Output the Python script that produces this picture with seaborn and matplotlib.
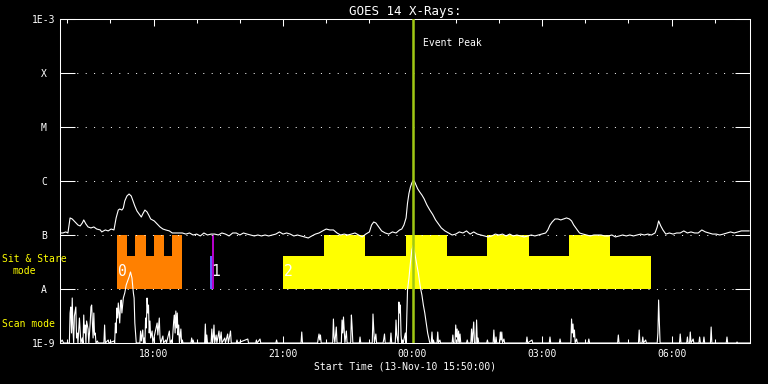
import numpy as np
import pandas as pd
import matplotlib
matplotlib.use("Agg")
import matplotlib.pyplot as plt
import matplotlib.dates as mdates
from matplotlib.ticker import NullLocator
import seaborn as sns

# ---------------- data ----------------
START = pd.Timestamp("2010-11-13 15:50:00")
END_MIN = 959
EVENT_PEAK = pd.Timestamp("2010-11-14 00:00:30")

# GOES long-channel flux (minutes after start, flux in units of 1e-7 W/m^2)
goes_min = [0, 4, 8, 11, 14, 17, 21, 25, 28, 31,
            33, 36, 39, 43, 47, 51, 56, 58, 63, 67,
            71, 75, 76, 78, 81, 83, 86, 88, 90, 93,
            96, 99, 101, 104, 107, 110, 113, 115, 118, 121,
            124, 126, 131, 135, 139, 143, 147, 152, 156, 161,
            167, 170, 175, 180, 185, 190, 195, 200, 205, 210,
            215, 220, 225, 230, 235, 240, 245, 250, 255, 260,
            265, 270, 275, 280, 285, 290, 295, 300, 305, 310,
            315, 320, 325, 330, 335, 340, 345, 350, 355, 360,
            365, 370, 375, 380, 385, 390, 395, 400, 405, 410,
            415, 420, 425, 430, 433, 436, 439, 443, 447, 452,
            457, 462, 467, 472, 475, 478, 481, 483, 485, 487,
            489, 491, 493, 495, 497, 500, 503, 506, 510, 514,
            518, 522, 526, 530, 535, 540, 545, 550, 555, 560,
            565, 570, 575, 580, 585, 590, 595, 600, 605, 610,
            615, 620, 625, 630, 635, 640, 645, 650, 655, 660,
            665, 670, 675, 678, 681, 684, 688, 692, 696, 700,
            704, 708, 711, 714, 718, 722, 727, 732, 737, 742,
            747, 752, 757, 762, 767, 772, 777, 782, 787, 792,
            797, 802, 807, 812, 817, 822, 827, 830, 832, 835,
            838, 842, 847, 852, 857, 862, 867, 872, 877, 882,
            887, 892, 897, 902, 907, 912, 917, 922, 927, 932,
            937, 942, 947, 952, 958]
goes_flux_e7 = [1.09, 1.09, 1.14, 1.09, 2.07, 1.98, 1.74, 1.53, 1.47, 1.67,
                1.90, 1.60, 1.41, 1.35, 1.41, 1.29, 1.24, 1.14, 1.24, 1.19,
                1.29, 1.24, 1.47, 2.07, 2.90, 3.03, 2.90, 3.16, 4.26, 5.27,
                5.74, 5.27, 4.45, 3.44, 2.78, 2.45, 2.15, 2.45, 2.90, 2.67,
                2.25, 1.98, 1.82, 1.60, 1.41, 1.29, 1.24, 1.19, 1.09, 1.09,
                1.09, 1.09, 1.04, 1.09, 1.00, 1.04, 0.96, 1.09, 1.00, 1.04,
                1.04, 1.00, 1.09, 1.04, 0.96, 1.09, 1.09, 1.00, 1.09, 1.04,
                1.00, 0.96, 1.00, 0.96, 1.00, 0.96, 1.00, 1.04, 1.14, 1.04,
                1.09, 1.04, 0.96, 1.00, 0.96, 0.92, 0.88, 0.96, 1.04, 1.09,
                1.19, 1.29, 1.24, 1.24, 1.09, 1.00, 1.04, 1.00, 1.04, 1.09,
                1.00, 0.92, 1.04, 1.14, 1.53, 1.74, 1.67, 1.41, 1.19, 1.09,
                1.04, 1.14, 1.09, 1.24, 1.29, 1.53, 2.07, 3.90, 5.90, 7.70,
                9.20, 10.4, 9.60, 8.30, 7.20, 6.25, 5.50, 4.70, 3.59, 2.90,
                2.40, 1.90, 1.60, 1.35, 1.19, 1.09, 1.00, 1.04, 1.14, 1.09,
                1.19, 1.04, 1.14, 1.04, 1.00, 0.96, 0.92, 0.96, 1.04, 1.00,
                1.04, 0.96, 1.04, 0.96, 1.00, 0.96, 0.92, 0.96, 1.00, 0.96,
                1.00, 1.04, 1.09, 1.24, 1.53, 1.74, 1.98, 1.98, 1.90, 1.98,
                2.07, 1.98, 1.82, 1.53, 1.29, 1.09, 1.04, 1.00, 0.96, 1.00,
                1.00, 1.00, 0.96, 0.96, 1.00, 0.92, 0.96, 1.00, 0.96, 1.00,
                0.96, 1.00, 1.04, 1.00, 1.04, 1.00, 1.09, 1.40, 1.82, 1.47,
                1.24, 1.04, 1.09, 1.04, 1.09, 1.09, 1.19, 1.09, 1.14, 1.09,
                1.09, 1.24, 1.14, 1.09, 1.04, 1.04, 1.00, 1.04, 1.09, 1.14,
                1.09, 1.14, 1.19, 1.19, 1.19]

# Scan-mode signal (minutes after start, arbitrary counts)
scan_min = [0, 3, 5, 13, 14, 15, 16, 17, 18, 19,
            20, 22, 23, 24, 25, 27, 28, 29, 31, 32,
            33, 34, 35, 36, 37, 39, 40, 42, 43, 44,
            45, 46, 47, 48, 49, 50, 52, 53,
            61, 62, 63, 67, 68, 75, 76, 77, 78, 79,
            80, 81, 82, 83, 84, 85, 86, 87, 88, 90,
            92, 94, 96, 98, 100, 102, 103, 104, 106,
            111, 112, 113, 115, 116, 117, 118, 119, 120, 121,
            122, 123, 124, 125, 126, 128, 129, 135, 136, 138,
            139, 140, 143, 144, 147, 148, 152, 153, 155, 156,
            158, 159, 160, 161, 162, 163, 164, 165, 166, 168,
            169, 170, 171,
            182, 183, 184, 185, 186, 201, 202, 203, 204, 205,
            210, 211, 212, 213, 214, 215, 217, 218, 221, 222,
            224, 225, 229, 230, 233, 234, 237, 238, 245, 246,
            247, 261, 262, 272, 273, 274, 278, 279,
            300, 301, 302, 335, 336, 337, 358, 359, 360, 361,
            362, 363, 379, 380, 381, 382, 384, 385, 391, 392,
            393, 394, 395, 396, 398, 399, 404, 405, 406, 407,
            416, 417, 418, 434, 435, 436, 437, 439, 440, 449,
            450, 451, 452, 459, 460, 461, 466, 467, 468, 470,
            471, 472, 473, 474, 475, 476, 477, 480, 481, 483,
            485, 487, 489, 491, 493, 496, 498, 501, 503, 505,
            507, 509, 511, 513, 514,
            516, 517, 518, 519, 520, 524, 525, 526, 528, 529,
            545, 546, 547, 549, 550, 551, 552, 553, 554, 555,
            556, 557, 565, 566, 567, 571, 572, 573, 575, 576,
            578, 579, 580, 581, 582, 593, 594, 595, 602, 603,
            604, 605, 606, 607, 611, 612, 613, 614, 615, 617,
            618, 648, 649, 650, 656, 657, 680, 681, 682, 694,
            695, 696, 710, 711, 712, 713, 714, 715, 716, 718,
            719, 734, 735, 736, 775, 776, 777, 804, 805, 806,
            809, 810, 811, 814, 815, 830, 831, 832, 833, 834,
            861, 862, 863, 871, 872, 873, 875, 876, 877, 880,
            881, 888, 889, 890, 894, 895, 896, 904, 905, 906,
            926, 927, 928, 940, 941, 942, 959]
scan_val = [0, 3, 0, 0, 30, 36, 10, 45, 15, 0,
            27, 36, 5, 10, 0, 25, 12, 0, 5, 0,
            28, 10, 18, 0, 22, 14, 0, 20, 36, 38,
            20, 5, 30, 8, 10, 0, 2, 0,
            0, 18, 0, 3, 0, 2, 0, 20, 10, 35,
            25, 40, 30, 20, 38, 43, 30, 38, 45, 50,
            58, 62, 66, 71, 65, 50, 45, 20, 0,
            0, 12, 2, 13, 0, 5, 0, 25, 15, 45,
            30, 38, 10, 22, 5, 12, 0, 20, 8, 25,
            5, 0, 7, 0, 3, 0, 12, 0, 3, 0,
            22, 28, 10, 32, 15, 30, 8, 18, 0, 14,
            0, 3, 0,
            0, 5, 0, 3, 0, 0, 19, 0, 8, 0,
            0, 14, 0, 6, 18, 0, 8, 0, 12, 0,
            11, 0, 5, 0, 9, 0, 12, 0, 0, 3,
            0, 4, 0, 0, 3, 0, 4, 0,
            0, 3, 0, 0, 11, 0, 0, 5, 9, 3,
            8, 0, 0, 24, 6, 0, 16, 0, 0, 23,
            10, 26, 12, 0, 12, 0, 0, 28, 16, 0,
            0, 6, 0, 0, 29, 15, 0, 9, 0, 0,
            4, 9, 0, 0, 10, 0, 0, 23, 8, 0,
            41, 30, 38, 8, 0, 3, 0, 10, 0, 53,
            65, 80, 93, 98, 90, 78, 70, 55, 48, 38,
            30, 20, 10, 3, 0,
            0, 11, 0, 3, 0, 0, 11, 0, 3, 0,
            0, 8, 0, 0, 18, 6, 14, 0, 12, 0,
            9, 0, 0, 3, 0, 0, 14, 0, 21, 0,
            0, 23, 0, 5, 0, 0, 3, 0, 0, 13,
            0, 0, 6, 0, 0, 11, 3, 11, 0, 4,
            0, 0, 6, 0, 3, 0, 0, 6, 0, 0,
            4, 0, 0, 24, 10, 19, 6, 13, 0, 4,
            0, 0, 4, 0, 0, 8, 0, 0, 13, 0,
            0, 6, 0, 3, 0, 0, 10, 43, 20, 0,
            0, 9, 0, 0, 6, 0, 0, 11, 0, 4,
            0, 0, 6, 0, 0, 6, 0, 0, 16, 0,
            0, 6, 0, 0, 1, 0, 0]

# Sit & Stare campaigns (minutes after start)
camp_labels = ["0", "1", "2"]
camp_colors = ["#ff8000", "#b400c8", "#ffff00"]
camp_low_span = [(79, 170), (208.5, 211.3), (310, 822)]
camp_high_spans = [[(79, 93), (104, 119), (130, 145), (156, 170)],
                   [(211.3, 213.6)],
                   [(367, 424), (481, 538), (594, 652), (708, 765)]]
camp_low_colors = ["#ff8000", "#6060ff", "#ffff00"]

LEVEL_BASE = 1e-8   # A
LEVEL_LOW = 4.1e-8
LEVEL_HIGH = 1e-7   # B

ytick_vals = [1e-9, 1e-8, 1e-7, 1e-6, 1e-5, 1e-4, 1e-3]
ytick_labels = ["1E-9", "A", "B", "C", "M", "X", "1E-3"]

# ---------------- style ----------------
sns.set_theme(style="ticks", rc={
    "figure.facecolor": "black", "axes.facecolor": "black",
    "axes.edgecolor": "white", "axes.labelcolor": "white",
    "xtick.color": "white", "ytick.color": "white", "text.color": "white",
    "savefig.facecolor": "black",
})
plt.rcParams["font.family"] = ["DejaVu Sans Mono", "DejaVu Sans"]

def tm(m):
    return START + pd.to_timedelta(m, unit="m")

fig = plt.figure(figsize=(7.68, 3.84), dpi=100)
ax = fig.add_axes([60 / 768, 41 / 384, 690 / 768, 324 / 384])
ax.set_yscale("log")
ax.set_ylim(1e-9, 1e-3)
ax.set_xlim(tm(0), tm(END_MIN))

# campaign bars
for i in range(len(camp_labels)):
    s, e = camp_low_span[i]
    ax.fill_between([tm(s), tm(e)], LEVEL_BASE, LEVEL_LOW,
                    color=camp_low_colors[i], lw=0, zorder=1)
    for (hs, he) in camp_high_spans[i]:
        ax.fill_between([tm(hs), tm(he)], LEVEL_BASE, LEVEL_HIGH,
                        color=camp_colors[i], lw=0, zorder=1)
    ax.text(tm(s + 1), 2.1e-8, camp_labels[i], color="white", fontsize=10.5,
            ha="left", va="center", zorder=4)

# GOES curve
goes_df = pd.DataFrame({"time": tm(np.array(goes_min)),
                        "flux": np.array(goes_flux_e7) * 1e-7})
sns.lineplot(data=goes_df, x="time", y="flux", ax=ax, color="white",
             lw=0.8, estimator=None, sort=False, zorder=3)

# axes styling
ax.set_yticks(ytick_vals)
ax.set_yticklabels(ytick_labels)
ax.yaxis.set_minor_locator(NullLocator())
ax.yaxis.grid(True, color="white", linestyle=(0, (1, 7.4)), lw=0.72)
ax.set_axisbelow(False)
ax.tick_params(axis="y", which="major", direction="in", length=10.8,
               width=0.75, left=True, right=True, pad=11.5, labelsize=7)
plt.setp(ax.get_yticklabels(), ha="center")

ax.xaxis.set_major_locator(mdates.HourLocator(byhour=range(0, 24, 3)))
ax.xaxis.set_minor_locator(mdates.HourLocator())
ax.xaxis.set_major_formatter(mdates.DateFormatter("%H:%M"))
ax.tick_params(axis="x", which="both", direction="in", top=True,
               bottom=True, width=0.75, labelsize=7, pad=4)
ax.tick_params(axis="x", which="major", length=5)
ax.tick_params(axis="x", which="minor", length=3)
for sp in ax.spines.values():
    sp.set_color("white")
    sp.set_linewidth(0.75)

ax.set_ylabel("")
ax.set_xlabel("Start Time (13-Nov-10 15:50:00)", fontsize=7, labelpad=2)
ax.set_title("GOES 14 X-Rays:", fontsize=9, pad=3, color="white")

# scan-mode overlay
ax2 = fig.add_axes(ax.get_position(), sharex=ax, facecolor="none")
ax2.set_ylim(0, 324)
scan_df = pd.DataFrame({"time": tm(np.array(scan_min)), "counts": scan_val})
sns.lineplot(data=scan_df, x="time", y="counts", ax=ax2, color="white",
             lw=0.8, estimator=None, sort=False)
ax2.axvline(EVENT_PEAK, color="#a0c814", lw=1.8, zorder=5)
ax2.set_axis_off()
ax2.annotate("Event Peak", xy=(EVENT_PEAK, 0.926),
             xycoords=("data", "axes fraction"), xytext=(7.5, 0),
             textcoords="offset points", ha="left", va="center",
             fontsize=7, color="white")

# side labels
fig.text(34 / 768, 1 - 259 / 384, "Sit & Stare", color="yellow",
         fontsize=7, ha="center", va="center")
fig.text(24.5 / 768, 1 - 271 / 384, "mode", color="yellow",
         fontsize=7, ha="center", va="center")
fig.text(28 / 768, 1 - 324 / 384, "Scan mode", color="yellow",
         fontsize=7, ha="center", va="center")

fig.savefig("out.png", dpi=100, facecolor="black")
